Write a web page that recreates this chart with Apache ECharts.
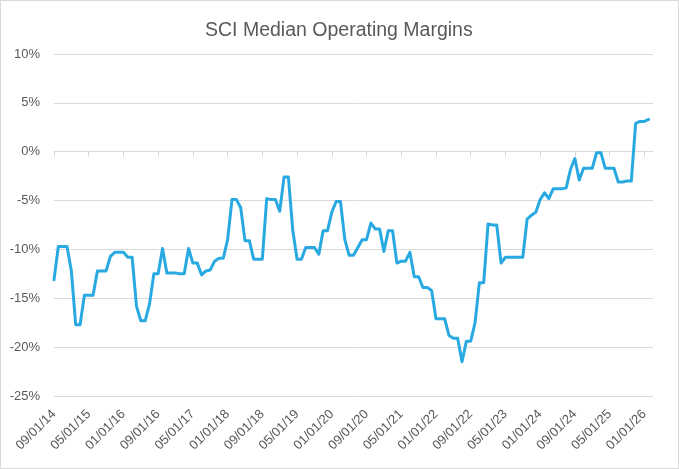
<!DOCTYPE html>
<html>
<head>
<meta charset="utf-8">
<script src="https://cdn.jsdelivr.net/npm/echarts@6/dist/echarts.min.js"></script>
<style>
  html, body { margin: 0; padding: 0; background: #fff; }
  #chart { width: 679px; height: 469px; box-sizing: border-box; border: 1px solid #d9d9d9; }
</style>
</head>
<body>
<div id="chart"></div>
<script>
// first month of the series and monthly margins (%)
const startYear = 2014;
const startMonth = 9;
const margins = [
  -13.1, -9.7, -9.7, -9.7, -12.2, -17.7, -17.7, -14.7, -14.7, -14.7,
  -12.2, -12.2, -12.2, -10.7, -10.3, -10.3, -10.3, -10.8, -10.8, -15.8,
  -17.3, -17.3, -15.6, -12.5, -12.5, -9.9, -12.4, -12.4, -12.4, -12.5,
  -12.5, -9.9, -11.4, -11.4, -12.6, -12.2, -12.1, -11.2, -10.9, -10.9,
  -9.0, -4.9, -4.9, -5.7, -9.1, -9.1, -11.0, -11.0, -11.0, -4.8,
  -4.9, -4.9, -6.1, -2.6, -2.6, -8.0, -11.0, -11.0, -9.8, -9.8,
  -9.8, -10.5, -8.1, -8.1, -6.2, -5.1, -5.1, -9.0, -10.6, -10.6,
  -9.8, -9.0, -9.0, -7.3, -7.9, -7.9, -10.2, -8.1, -8.1, -11.4,
  -11.2, -11.2, -10.3, -12.8, -12.8, -13.9, -13.9, -14.2, -17.1, -17.1,
  -17.1, -18.8, -19.1, -19.1, -21.5, -19.4, -19.4, -17.5, -13.4, -13.4,
  -7.4, -7.5, -7.5, -11.4, -10.8, -10.8, -10.8, -10.8, -10.8, -6.9,
  -6.5, -6.2, -4.9, -4.2, -4.8, -3.8, -3.8, -3.8, -3.7, -1.8,
  -0.7, -2.9, -1.7, -1.7, -1.7, -0.1, -0.1, -1.7, -1.7, -1.7,
  -3.1, -3.1, -3.0, -3.0, 2.9, 3.1, 3.1, 3.3
];
// axis runs one month past the last value
const extraMonths = 1;

function pad(n) { return n < 10 ? '0' + n : '' + n; }

// build the MM/01/YY category labels
const months = [];
for (let i = 0; i < margins.length + extraMonths; i++) {
    const t = startMonth - 1 + i;
    const y = startYear + Math.floor(t / 12);
    const m = (t % 12) + 1;
    months.push(pad(m) + '/01/' + pad(y % 100));
}
const values = margins.concat(new Array(extraMonths).fill(null));

const textColor = '#595959';
const gridColor = '#d9d9d9';
const fontFamily = 'Liberation Sans, Arial, sans-serif';

var myChart = echarts.init(document.getElementById('chart'));

var option = {
    animation: false,
    title: {
        text: 'SCI Median Operating Margins',
        left: 199,
        top: 15,
        textStyle: { color: textColor, fontSize: 19.5, fontWeight: 'normal', fontFamily: fontFamily }
    },
    grid: { left: 53, right: 25, top: 53, bottom: 72 },
    xAxis: [
        {
            // labels along the bottom
            type: 'category',
            data: months,
            boundaryGap: false,
            position: 'bottom',
            axisLine: { show: false, onZero: false },
            axisTick: { show: false },
            axisLabel: {
                interval: 7,
                rotate: 45,
                margin: 16,
                color: textColor,
                fontSize: 13,
                fontFamily: fontFamily
            },
            splitLine: { show: false }
        },
        {
            // axis line with ticks sitting on 0%
            type: 'category',
            data: months,
            boundaryGap: false,
            position: 'top',
            axisLine: { show: true, onZero: true, lineStyle: { color: gridColor, width: 1 } },
            axisTick: { show: true, inside: true, interval: 7, length: 5, lineStyle: { color: gridColor } },
            axisLabel: { show: false },
            splitLine: { show: false }
        }
    ],
    yAxis: {
        type: 'value',
        min: -25,
        max: 10,
        interval: 5,
        axisLine: { show: false },
        axisTick: { show: false },
        axisLabel: {
            formatter: '{value}%',
            margin: 14,
            color: textColor,
            fontSize: 13,
            fontFamily: fontFamily
        },
        splitLine: { lineStyle: { color: gridColor, width: 1 } }
    },
    series: [{
        type: 'line',
        xAxisIndex: 0,
        data: values,
        symbol: 'none',
        lineStyle: { color: '#29a9e1', width: 3, cap: 'round', join: 'round' },
        itemStyle: { color: '#29a9e1' }
    }]
};

myChart.setOption(option);
</script>
</body>
</html>
